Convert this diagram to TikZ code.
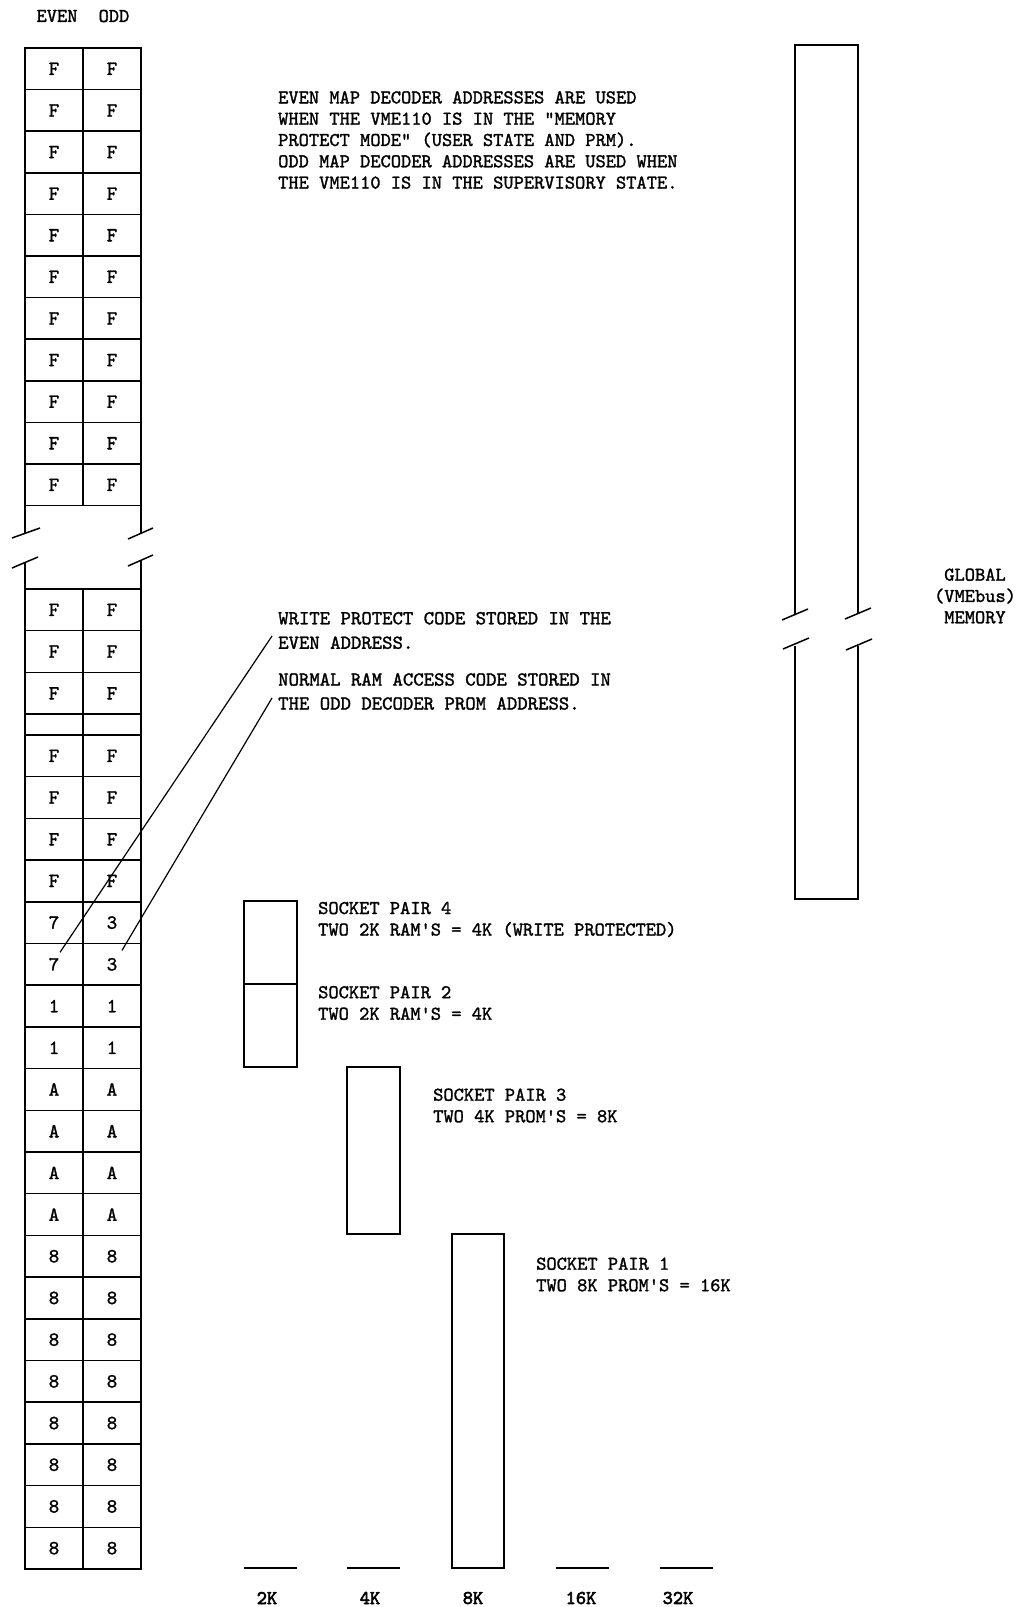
\documentclass[tikz,border=0pt]{standalone}
\usepackage{fontspec}
\usetikzlibrary{calc}

% Caracteres de machine a ecrire
\newfontfamily\machine{lmmono10-regular.otf}[FakeBold=1.5]
\newfontfamily\machinegras{lmmono10-regular.otf}[FakeBold=3]

\tikzset{
  cellule/.style={draw, line width=1.5pt, minimum width=58pt, minimum height=#1,
    inner sep=0pt, font=\fontsize{20}{20}\machine},
  cellule/.default=41.7pt,
  legende/.style={align=left, inner sep=0pt, anchor=west, font=\fontsize{19.5}{21.3}\machine},
  echelle/.style={inner sep=0pt, font=\fontsize{19.5}{20}\machinegras},
  trait/.style={line width=1.5pt},
}

\begin{document}
\begin{tikzpicture}[x=1pt,y=-1pt]
\useasboundingbox (0,0) rectangle (1022,1607);

% En-tete des colonnes
\node[legende, anchor=center] (evenhd) at (57,16) {EVEN};
\node[legende, anchor=center] (oddhd) at (114,16) {ODD};

% Table du haut
\foreach \i in {0,...,10} {
  \node[cellule] (eu\i) at (54,{68.85+41.6*\i}) {F};
  \node[cellule] (ou\i) at (112,{68.85+41.6*\i}) {F};
}

% Coupure de la table
\draw[trait] (25,505.7) -- (25,533) (141,505.7) -- (141,533);
\draw[trait] (12,538) -- (40,528) (128,539) -- (153,528);
\draw[trait] (12,568) -- (38,557) (128,566) -- (153,555);
\draw[trait] (25,562) -- (25,589) (141,560) -- (141,589);

% Table du bas
\foreach \i in {0,1,2} {
  \node[cellule] (el\i) at (54,{609.85+41.7*\i}) {F};
  \node[cellule] (ol\i) at (112,{609.85+41.7*\i}) {F};
}
\node[cellule=21pt] (egap) at (54,724.6) {};
\node[cellule=21pt] (ogap) at (112,724.6) {};
\foreach \ev/\od [count=\i from 0] in {F/F,F/F,F/F,F/F,7/3,7/3,1/1,1/1,A/A,A/A,A/A,A/A,
    8/8,8/8,8/8,8/8,8/8,8/8,8/8,8/8} {
  \node[cellule] (e\i) at (54,{755.85+41.7*\i}) {\ev};
  \node[cellule] (o\i) at (112,{755.85+41.7*\i}) {\od};
}

% Texte explicatif
\node[legende] (decnote) at (278,140) {EVEN MAP DECODER ADDRESSES ARE USED\\
  WHEN THE VME110 IS IN THE "MEMORY\\
  PROTECT MODE" (USER STATE AND PRM).\\
  ODD MAP DECODER ADDRESSES ARE USED WHEN\\
  THE VME110 IS IN THE SUPERVISORY STATE.};

\node[legende, font=\fontsize{19.8}{24.5}\machine] (wpnote) at (278,630.5)
  {WRITE PROTECT CODE STORED IN THE\\EVEN ADDRESS.};
\node[legende, font=\fontsize{19.8}{24}\machine] (ramnote) at (278,691.5)
  {NORMAL RAM ACCESS CODE STORED IN\\THE ODD DECODER PROM ADDRESS.};

% Renvois vers les cellules 7 et 3
\coordinate (wptop) at (272,636);
\coordinate (ramtop) at (272,698);
\draw[line width=1.2pt] (wptop) -- ($(e5.center)+(6,-12)$);
\draw[line width=1.2pt] (ramtop) -- ($(o5.center)+(10,-14)$);

% Paires de supports
\draw[trait] (244,901) rectangle (297,984);
\draw[trait] (244,984) rectangle (297,1067);
\draw[trait] (347,1067) rectangle (400,1234);
\draw[trait] (452,1234) rectangle (504,1568);

\node[legende, font=\fontsize{19.5}{21.5}\machine] (sp4) at (318,919.5)
  {SOCKET PAIR 4\\TWO 2K RAM\textquotesingle S = 4K (WRITE PROTECTED)};
\node[legende, font=\fontsize{19.5}{21.5}\machine] (sp2) at (318,1003)
  {SOCKET PAIR 2\\TWO 2K RAM\textquotesingle S = 4K};
\node[legende, font=\fontsize{19.5}{21.5}\machine] (sp3) at (433,1105.5)
  {SOCKET PAIR 3\\TWO 4K PROM\textquotesingle S = 8K};
\node[legende, font=\fontsize{19.5}{21.5}\machine] (sp1) at (536,1274.5)
  {SOCKET PAIR 1\\TWO 8K PROM\textquotesingle S = 16K};

% Echelle du bas
\draw[line width=2pt] (244,1568) -- (297,1568);
\draw[line width=2pt] (347,1568) -- (400,1568);
\draw[line width=2pt] (556,1568) -- (609,1568);
\draw[line width=2pt] (660,1568) -- (713,1568);

\node[echelle] (k2) at (267,1598) {2K};
\node[echelle] (k4) at (370,1598) {4K};
\node[echelle] (k8) at (473,1598) {8K};
\node[echelle] (k16) at (581,1598) {16K};
\node[echelle] (k32) at (678,1598) {32K};

% Memoire globale
\draw[trait] (795,614) -- (795,45) -- (858,45) -- (858,614);
\draw[trait] (795,646) -- (795,899) -- (858,899) -- (858,646);
\draw[trait] (782,620) -- (808,609) (845,619) -- (871,608);
\draw[trait] (783,649) -- (809,638) (846,650) -- (872,639);

\node[legende, anchor=center, align=center] (globalmem) at (975,596)
  {GLOBAL\\(VMEbus)\\MEMORY};

\end{tikzpicture}
\end{document}
